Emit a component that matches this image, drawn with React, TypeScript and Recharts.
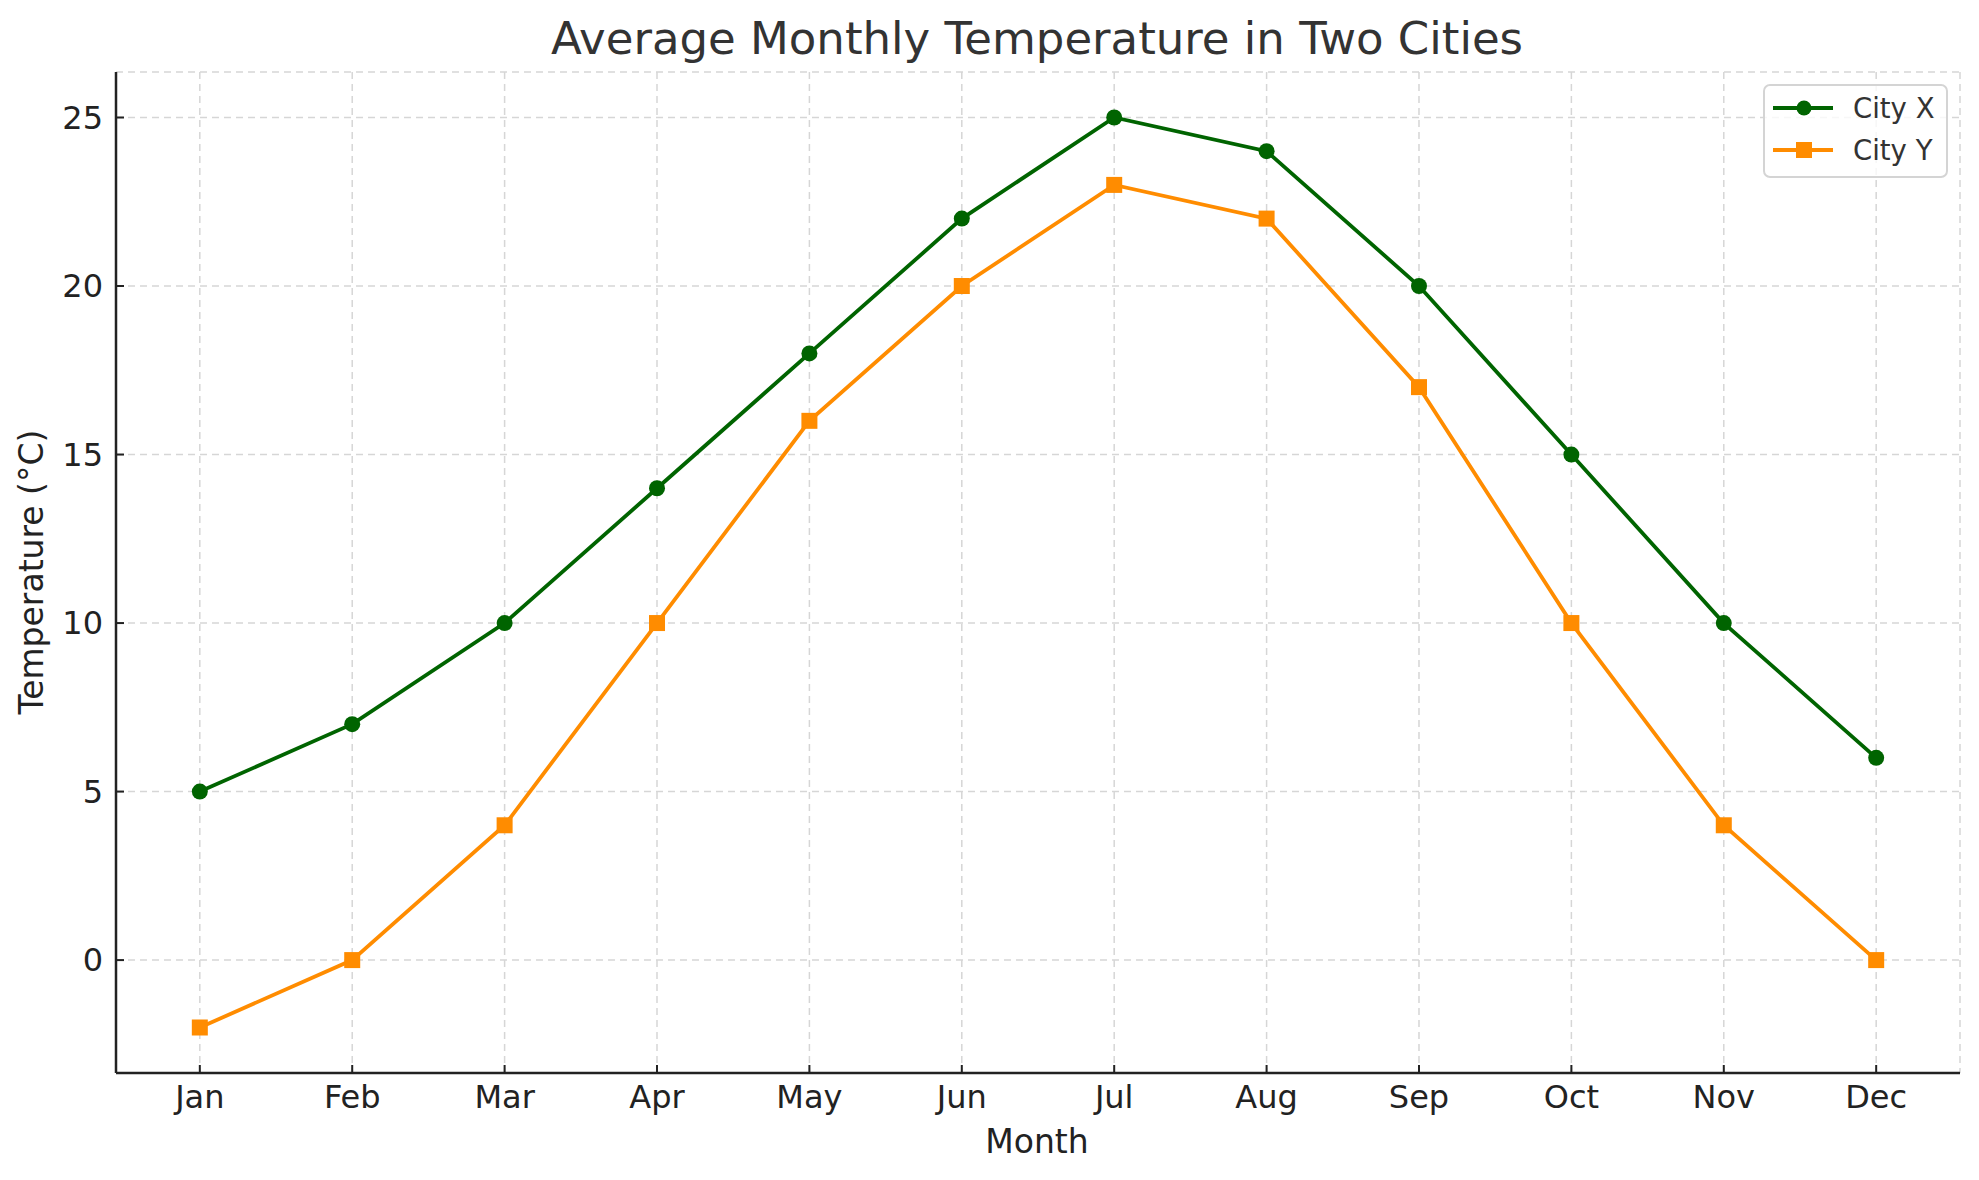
import { LineChart, Line, XAxis, YAxis, CartesianGrid } from "recharts";

const MONTHS = ["Jan", "Feb", "Mar", "Apr", "May", "Jun", "Jul", "Aug", "Sep", "Oct", "Nov", "Dec"];
const CITY_X = [5, 7, 10, 14, 18, 22, 25, 24, 20, 15, 10, 6];
const CITY_Y = [-2, 0, 4, 10, 16, 20, 23, 22, 17, 10, 4, 0];
const Y_TICKS = [0, 5, 10, 15, 20, 25];

const GREEN = "#006400";
const ORANGE = "#FF8C00";
const FONT = "'DejaVu Sans', sans-serif";
const INK = "#222";

const data = MONTHS.map((m, i) => ({ idx: i, month: m, cityX: CITY_X[i], cityY: CITY_Y[i] }));

const XTick = (props: any) => {
  const { x, y, payload } = props;
  return (
    <g>
      <line x1={x} x2={x} y1={y} y2={y - 8} stroke={INK} strokeWidth={2} />
      <text x={x} y={y + 35} textAnchor="middle" fontSize={32} fontFamily={FONT} fill={INK}>
        {MONTHS[payload.value]}
      </text>
    </g>
  );
};

const YTick = (props: any) => {
  const { x, y, payload } = props;
  return (
    <g>
      <line x1={x} x2={x + 8} y1={y} y2={y} stroke={INK} strokeWidth={2} />
      <text x={x - 13} y={y} textAnchor="end" dominantBaseline="central" fontSize={32} fontFamily={FONT} fill={INK}>
        {payload.value}
      </text>
    </g>
  );
};

const SquareDot = (props: any) => {
  const { cx, cy, index } = props;
  if (cx == null || cy == null) return <g key={`sq-${index}`} />;
  return <rect key={`sq-${index}`} x={cx - 8} y={cy - 8} width={16} height={16} fill={ORANGE} />;
};

export default function App() {
  return (
    <div style={{ position: "absolute", left: 0, top: 0, width: 1979, height: 1180, background: "#fff" }}>
      <LineChart width={1979} height={1180} data={data} margin={{ top: 72, right: 19, bottom: 0, left: 0 }}>
        <CartesianGrid stroke="#d6d6d6" strokeWidth={1.5} strokeDasharray="7 5" />
        <XAxis
          dataKey="idx"
          type="number"
          domain={[-0.55, 11.55]}
          ticks={MONTHS.map((_, i) => i)}
          height={107}
          tickSize={0}
          tickMargin={0}
          tickLine={false}
          tick={<XTick />}
          axisLine={{ stroke: INK, strokeWidth: 2.5 }}
          interval={0}
        />
        <YAxis
          type="number"
          domain={[-3.35, 26.35]}
          ticks={Y_TICKS}
          width={116}
          tickSize={0}
          tickMargin={0}
          tickLine={false}
          tick={<YTick />}
          axisLine={{ stroke: INK, strokeWidth: 2.5 }}
          allowDataOverflow
        />
        <Line
          dataKey="cityX"
          stroke={GREEN}
          strokeWidth={3.8}
          dot={{ r: 8, fill: GREEN, stroke: GREEN, strokeWidth: 0 }}
          activeDot={false}
          isAnimationActive={false}
        />
        <Line
          dataKey="cityY"
          stroke={ORANGE}
          strokeWidth={3.8}
          dot={SquareDot}
          activeDot={false}
          isAnimationActive={false}
        />
      </LineChart>
      <svg width={1979} height={1180} style={{ position: "absolute", left: 0, top: 0, pointerEvents: "none" }}>
        <text x={1037} y={54} textAnchor="middle" fontSize={45} fontFamily={FONT} fill="#333">
          Average Monthly Temperature in Two Cities
        </text>
        <text x={1037} y={1153} textAnchor="middle" fontSize={33} fontFamily={FONT} fill={INK}>
          Month
        </text>
        <text
          transform="translate(43,572) rotate(-90)"
          x={0}
          y={0}
          textAnchor="middle"
          fontSize={33}
          fontFamily={FONT}
          fill={INK}
        >
          Temperature (°C)
        </text>
        <g>
          <rect x={1764} y={85} width={183} height={92} rx={6} fill="rgba(255,255,255,0.8)" stroke="#d4d4d4" strokeWidth={2} />
          <line x1={1773} x2={1833} y1={108} y2={108} stroke={GREEN} strokeWidth={3.8} />
          <circle cx={1804} cy={108} r={7.5} fill={GREEN} />
          <text x={1853} y={108} dominantBaseline="central" fontSize={27.5} fontFamily={FONT} fill="#333">
            City X
          </text>
          <line x1={1773} x2={1833} y1={150} y2={150} stroke={ORANGE} strokeWidth={3.8} />
          <rect x={1796} y={142} width={16} height={16} fill={ORANGE} />
          <text x={1853} y={150} dominantBaseline="central" fontSize={27.5} fontFamily={FONT} fill="#333">
            City Y
          </text>
        </g>
      </svg>
    </div>
  );
}
